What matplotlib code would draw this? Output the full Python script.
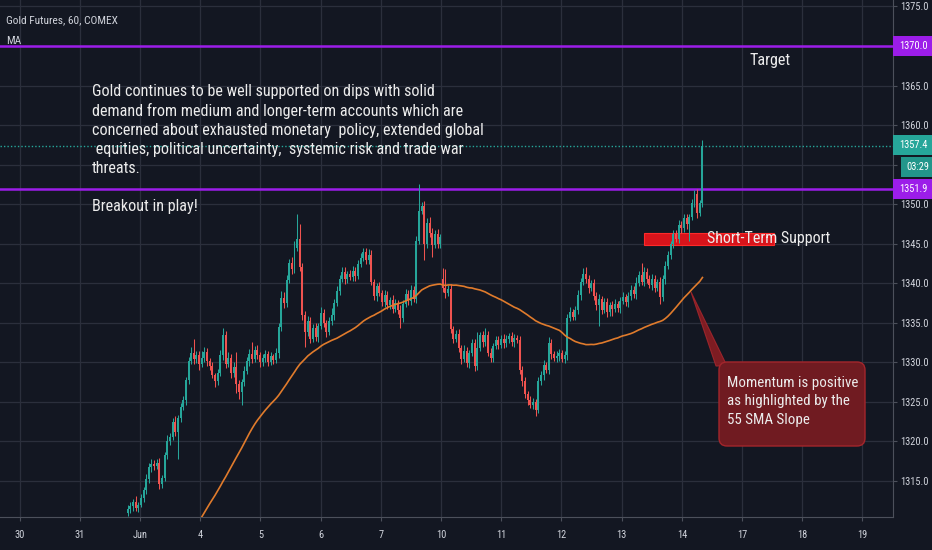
import numpy as np
import pandas as pd
import matplotlib.pyplot as plt
from matplotlib import font_manager as fm
from matplotlib.patches import Rectangle, FancyBboxPatch, Polygon
from matplotlib.transforms import IdentityTransform

W, H = 932, 550
BG = '#131722'
GRID = '#2b2f3c'
AXIS = '#4c505b'
TXT = '#d1d4dc'
WHITE = '#ececec'
UP = '#26a69a'
DOWN = '#ef5350'
PURPLE = '#9c1de9'
MA_COL = '#e07b2c'

day_labels = ['30', '31', 'Jun', '4', '5', '6', '7', '10', '11', '12', '13', '14', '17', '18', '19']

# hourly closes before the visible part (below the chart), only used for the 55 SMA
may_close = [1303.2, 1302.6, 1303.5, 1302.1, 1301.4, 1302.3, 1301.8, 1300.9, 1301.6, 1302.4,
             1301.2, 1300.6, 1301.5, 1300.8, 1299.9, 1300.4, 1299.6, 1298.8, 1299.5, 1298.4,
             1297.6, 1298.9, 1299.8, 1298.6, 1296.8, 1295.4, 1294.6, 1295.2, 1293.8, 1294.5,
             1293.6, 1294.9, 1296.3, 1298.2, 1301.5, 1303.8, 1305.6, 1307.2, 1308.1, 1309.0,
             1310.0]

first_open = 1311.0
close = [
    1311.5, 1311.8, 1312.3, 1311.6, 1312.0, 1312.8, 1313.9, 1315.2, 1316.8, 1317.2,
    1316.9, 1317.3, 1314.6, 1315.4, 1318.3, 1320.1, 1320.6, 1322.4, 1321.2, 1323.0,
    1324.4, 1325.2, 1327.8, 1330.2, 1331.2, 1330.4, 1330.9, 1329.8, 1330.6, 1331.3,
    1330.2, 1329.5, 1328.4, 1327.6, 1328.7, 1330.9, 1333.4, 1329.8, 1330.5, 1328.6,
    1329.4, 1327.3, 1326.2, 1327.5, 1328.9, 1330.2, 1331.0, 1330.4, 1331.6, 1330.9,
    1330.0, 1330.6, 1331.0, 1330.1, 1330.8, 1330.3, 1331.2, 1334.5, 1338.2, 1337.5,
    1340.4, 1342.6, 1341.8, 1344.5, 1345.6, 1342.0, 1336.0, 1333.8, 1335.2, 1333.0,
    1334.4, 1333.2, 1334.6, 1336.2, 1335.0, 1333.8, 1335.2, 1336.0, 1337.5, 1339.0,
    1340.6, 1341.4, 1340.5, 1341.2, 1340.8, 1341.6, 1340.9, 1342.5, 1343.2, 1343.9,
    1343.0, 1343.6, 1340.2, 1338.4, 1339.6, 1338.8, 1337.6, 1338.5, 1337.2, 1337.9,
    1336.8, 1337.5, 1336.6, 1335.6, 1337.4, 1338.6, 1337.8, 1339.2, 1338.0, 1345.4,
    1349.2, 1349.8, 1345.0, 1347.6, 1346.4, 1344.8, 1346.2, 1345.0, 1345.8, 1339.4,
    1338.8, 1339.3, 1334.2, 1333.0, 1333.6, 1331.8, 1330.4, 1331.5, 1329.9, 1331.2,
    1332.4, 1329.6, 1331.8, 1333.4, 1332.6, 1333.5, 1331.2, 1330.6, 1332.1, 1332.8,
    1332.2, 1333.0, 1332.4, 1332.9, 1333.3, 1332.6, 1333.1, 1332.8, 1329.0, 1327.6,
    1326.0, 1325.2, 1324.6, 1325.0, 1324.0, 1327.6, 1328.4, 1329.7, 1329.0, 1332.4,
    1331.0, 1330.6, 1330.8, 1331.2, 1330.4, 1330.9, 1335.6, 1336.4, 1335.8, 1336.6,
    1338.5, 1340.2, 1341.2, 1340.6, 1339.4, 1340.0, 1338.4, 1337.2, 1338.0, 1336.6,
    1337.6, 1336.4, 1337.2, 1336.8, 1337.4, 1336.9, 1337.8, 1338.3, 1337.6, 1338.4,
    1339.2, 1338.6, 1340.1, 1341.0, 1340.2, 1341.4, 1340.6, 1339.8, 1340.6, 1339.4,
    1340.2, 1338.3, 1340.5, 1342.2, 1343.6, 1345.0, 1346.2, 1345.6, 1347.4, 1347.0,
    1348.2, 1347.5, 1348.4, 1350.2, 1351.3, 1348.9, 1350.1, 1357.4,
]
wick_up = [
    0.5, 0.6, 0.4, 0.8, 0.3, 0.5, 0.4, 0.7, 0.5, 0.6,
    0.4, 0.5, 0.6, 0.3, 0.4, 0.7, 0.5, 0.6, 0.8, 0.4,
    0.5, 0.6, 0.4, 0.5, 0.7, 1.8, 0.6, 0.5, 0.8, 0.6,
    0.5, 0.4, 0.6, 0.3, 0.5, 0.7, 0.9, 0.6, 0.8, 0.5,
    0.6, 1.9, 0.5, 0.4, 0.6, 0.5, 0.7, 1.6, 0.5, 0.6,
    0.4, 0.5, 0.6, 0.4, 0.5, 0.3, 0.6, 0.5, 0.8, 0.7,
    0.6, 0.5, 0.7, 0.8, 3.2, 1.9, 0.6, 0.5, 0.7, 0.6,
    0.5, 0.6, 0.4, 0.8, 0.5, 0.4, 0.6, 0.9, 0.5, 0.6,
    0.5, 0.7, 0.6, 0.4, 0.5, 0.6, 0.4, 0.5, 0.6, 0.6,
    0.5, 0.7, 0.6, 0.4, 0.5, 0.6, 0.4, 0.7, 0.5, 0.4,
    0.6, 0.5, 0.4, 0.6, 0.5, 0.7, 0.5, 0.6, 0.4, 0.6,
    3.4, 0.5, 0.6, 0.7, 0.8, 0.6, 0.5, 0.7, 0.4, 1.3,
    2.4, 0.5, 0.6, 0.4, 0.5, 0.6, 0.4, 0.7, 0.5, 0.4,
    0.6, 0.5, 2.0, 0.4, 0.6, 0.8, 0.5, 0.6, 0.4, 0.5,
    0.5, 0.4, 0.6, 0.5, 0.4, 0.6, 0.5, 0.4, 0.5, 0.6,
    0.5, 0.4, 0.6, 0.5, 0.4, 0.6, 0.5, 0.6, 0.4, 0.8,
    0.5, 0.4, 0.6, 0.5, 0.4, 0.6, 0.5, 0.6, 0.4, 0.5,
    0.6, 0.5, 0.7, 0.9, 0.5, 0.4, 0.6, 0.5, 0.6, 0.4,
    0.5, 0.6, 0.4, 0.5, 0.6, 0.4, 0.5, 0.6, 0.4, 0.5,
    0.6, 0.5, 0.7, 0.5, 1.6, 0.6, 0.5, 0.4, 0.6, 0.5,
    0.4, 0.6, 0.5, 0.6, 0.5, 0.4, 0.6, 0.5, 0.6, 0.5,
    0.6, 0.5, 0.4, 0.5, 0.5, 0.6, 0.4, 0.7,
]
wick_dn = [
    0.4, 0.5, 0.6, 0.4, 0.5, 0.3, 0.4, 0.5, 0.4, 0.6,
    0.5, 0.4, 0.6, 0.5, 0.4, 0.5, 0.6, 0.4, 0.5, 3.4,
    0.5, 0.4, 0.6, 0.5, 0.4, 0.6, 0.5, 0.7, 0.4, 0.5,
    0.6, 0.5, 0.4, 0.7, 0.5, 0.4, 0.6, 0.5, 0.4, 0.6,
    0.5, 1.2, 0.8, 1.6, 0.5, 0.4, 0.6, 0.5, 0.4, 0.5,
    0.6, 0.4, 0.5, 0.6, 0.4, 0.5, 0.4, 0.6, 0.5, 0.6,
    0.5, 0.4, 0.6, 0.5, 0.4, 0.5, 0.6, 1.9, 0.5, 0.6,
    0.4, 0.5, 0.6, 0.4, 0.5, 0.6, 0.4, 0.5, 0.6, 0.4,
    0.5, 0.4, 0.6, 0.5, 0.4, 0.5, 0.6, 0.4, 0.5, 0.4,
    0.5, 0.6, 0.4, 0.5, 0.6, 0.4, 0.5, 0.6, 0.4, 0.5,
    0.6, 0.4, 0.5, 1.3, 0.5, 0.4, 0.6, 0.5, 0.4, 0.5,
    0.4, 0.5, 2.1, 0.6, 0.5, 1.5, 0.4, 0.6, 0.5, 0.5,
    0.6, 0.4, 0.5, 0.6, 0.4, 0.5, 0.6, 0.4, 0.5, 0.6,
    0.4, 0.7, 0.5, 0.4, 0.6, 0.5, 0.4, 0.5, 0.6, 0.4,
    0.5, 0.4, 0.6, 0.5, 0.4, 0.5, 0.6, 0.4, 0.5, 0.6,
    0.5, 0.6, 0.4, 0.5, 0.8, 0.4, 0.5, 0.6, 0.4, 0.5,
    0.6, 0.4, 0.5, 0.6, 0.4, 0.5, 0.6, 0.4, 0.5, 0.4,
    0.5, 0.6, 0.4, 0.5, 0.6, 0.4, 0.5, 0.6, 2.6, 0.5,
    0.4, 0.6, 0.5, 0.9, 0.4, 0.5, 0.6, 0.4, 0.5, 0.6,
    0.5, 0.4, 0.6, 0.5, 0.4, 0.6, 0.5, 0.4, 0.6, 0.5,
    0.4, 0.9, 0.5, 0.6, 0.4, 0.5, 0.6, 0.4, 0.5, 0.6,
    0.5, 0.6, 2.1, 0.4, 0.5, 0.7, 0.4, 0.5,
]
gap_open = {160: 1340.6}   # sunday reopen

level_lines = [1370.0, 1351.9]
last_price = 1357.4
countdown = '03:29'
support_zone = (235.9, 285.0, 1344.9, 1346.3)   # bar from, bar to, price low, price high

note_lines = ["Gold continues to be well supported on dips with solid",
              "demand from medium and longer-term accounts which are",
              "concerned about exhausted monetary  policy, extended global",
              " equities, political uncertainty,  systemic risk and trade war",
              "threats.",
              "",
              "Breakout in play!"]
momentum_lines = ["Momentum is positive", "as highlighted by the", "55 SMA Slope"]


def pick_font():
    for fam in ['Liberation Sans Narrow', 'Roboto Condensed', 'Open Sans Condensed',
                'Liberation Sans', 'Roboto']:
        try:
            return fm.findfont(fm.FontProperties(family=fam), fallback_to_default=False)
        except ValueError:
            continue
    return fm.findfont(fm.FontProperties(family='DejaVu Sans'))


FONT = pick_font()


def fp(size):
    return fm.FontProperties(fname=FONT, size=size)


# ---- build OHLC
start = len(may_close)
x = np.arange(start, start + len(close))
c = np.array(close)
o = np.array([first_open] + close[:-1])
for k, v in gap_open.items():
    o[k - start] = v
hi = np.maximum(o, c) + np.array(wick_up)
lo = np.minimum(o, c) - np.array(wick_dn)
all_close = pd.Series(may_close + close)
sma = all_close.rolling(55).mean()

# ---- figure
px_per_bar = 2.649
x0_px = 19.0
day_px = 60.2
plot_r, plot_b = 893, 517
fig = plt.figure(figsize=(W / 100, H / 100), dpi=100, facecolor=BG)
ax = fig.add_axes([0, 1 - plot_b / H, plot_r / W, plot_b / H], facecolor=BG)
ax.set_xlim(-x0_px / px_per_bar, (plot_r - x0_px) / px_per_bar)
ax.set_ylim(1310.45, 1375.82)


def px(xp, yp):
    return xp / W, 1 - yp / H


ax.grid(True, color=GRID, lw=0.9)
ax.set_axisbelow(True)
yt = np.arange(1315, 1376, 5)
hidden = (1355, 1370)   # covered by the price boxes on the scale
ax.set_yticks(yt)
ax.set_yticklabels(['' if v in hidden else f'{v:.1f}' for v in yt])
ax.set_xticks((0.6 + np.arange(len(day_labels)) * day_px) / px_per_bar)
ax.set_xticklabels(day_labels)
ax.yaxis.tick_right()
ax.tick_params(axis='y', colors=AXIS, labelcolor=TXT, length=3, pad=2)
ax.tick_params(axis='x', colors=AXIS, labelcolor=TXT, length=3, pad=6)
for s in ['top', 'left']:
    ax.spines[s].set_visible(False)
for s in ['right', 'bottom']:
    ax.spines[s].set_color(AXIS)

# support zone
x1, x2, p1, p2 = support_zone
ax.add_patch(Rectangle((x1, p1), x2 - x1, p2 - p1, fc='#d8141b', ec='#ff2a2a', lw=0.8, zorder=2))

# levels
for lv in level_lines:
    ax.axhline(lv, color=PURPLE, lw=1.8, zorder=2)
ax.axhline(last_price, color=UP, lw=1, ls=(0, (1, 1.5)), zorder=2)

# candles
cols = np.where(c >= o, UP, DOWN)
ax.vlines(x, lo, hi, colors=cols, lw=0.75, zorder=3)
body = np.maximum(np.abs(c - o), 0.12)
ax.bar(x, body, bottom=np.minimum(o, c), width=0.75, color=cols, lw=0, zorder=4)

# 55 SMA
ax.plot(np.arange(len(all_close)), sma, color=MA_COL, lw=1.2, zorder=5)

# momentum callout (pixel coords)
ident = IdentityTransform()
box_ec = '#a3262c'
fig.add_artist(Polygon([(691, H - 292), (716, H - 366), (727, H - 366)], closed=True,
                       fc='#8a1d23', ec=box_ec, lw=0.8, alpha=0.9, transform=ident))
fig.add_artist(FancyBboxPatch((719, H - 446), 146, 84, boxstyle='round,pad=0,rounding_size=8',
                              fc='#701b21', ec=box_ec, lw=1, transform=ident))

# ---- font sizes fitted to the widths measured on the reference
fig.canvas.draw()
rend = fig.canvas.get_renderer()


def size_for(sample, width_px, grow=1.0):
    t = fig.text(0, 0, sample, fontproperties=fp(10))
    w = t.get_window_extent(rend).width
    t.remove()
    return 10 * width_px / w * grow


tick_size = size_for('1375.0', 27, 1.05)
note_size = size_for(note_lines[2], 369, 1.06)
mom_size = size_for(momentum_lines[0], 130, 1.0)
sup_size = size_for('Short-Term Support', 117, 1.06)
head_size = size_for('Gold Futures, 60, COMEX', 107, 1.04)

for lbl in ax.get_xticklabels() + ax.get_yticklabels():
    lbl.set_fontproperties(fp(tick_size))


def price_box(yc, label, fc, x_left=plot_r, h=20):
    fig.add_artist(Rectangle((x_left, H - yc - h / 2), W - x_left, h, fc=fc, ec='none',
                             transform=ident))
    fig.text(*px((x_left + W) / 2 + 1, yc), label, color='white', fontproperties=fp(tick_size),
             ha='center', va='center')


price_box(46, '1370.0', PURPLE)
price_box(145, '1357.4', UP)
price_box(167, countdown, '#22968b', x_left=901)
price_box(189, '1351.9', PURPLE)

# texts
fig.text(*px(6, 20.5), 'Gold Futures, 60, COMEX', color=TXT, fontproperties=fp(head_size), va='center')
fig.text(*px(6, 40.5), 'MA', color=TXT, fontproperties=fp(head_size), va='center')
for i, line in enumerate(note_lines):
    fig.text(*px(92, 91.7 + 19.2 * i), line, color=WHITE, fontproperties=fp(note_size), va='center')
fig.text(*px(750, 60), 'Target', color=WHITE, fontproperties=fp(note_size), va='center')
fig.text(*px(707, 239), 'Short-Term Support', color=WHITE, fontproperties=fp(sup_size), va='center')
for i, line in enumerate(momentum_lines):
    fig.text(*px(727, 383 + 18.5 * i), line, color=WHITE, fontproperties=fp(mom_size), va='center')

fig.savefig('out.png', dpi=100, facecolor=BG)
